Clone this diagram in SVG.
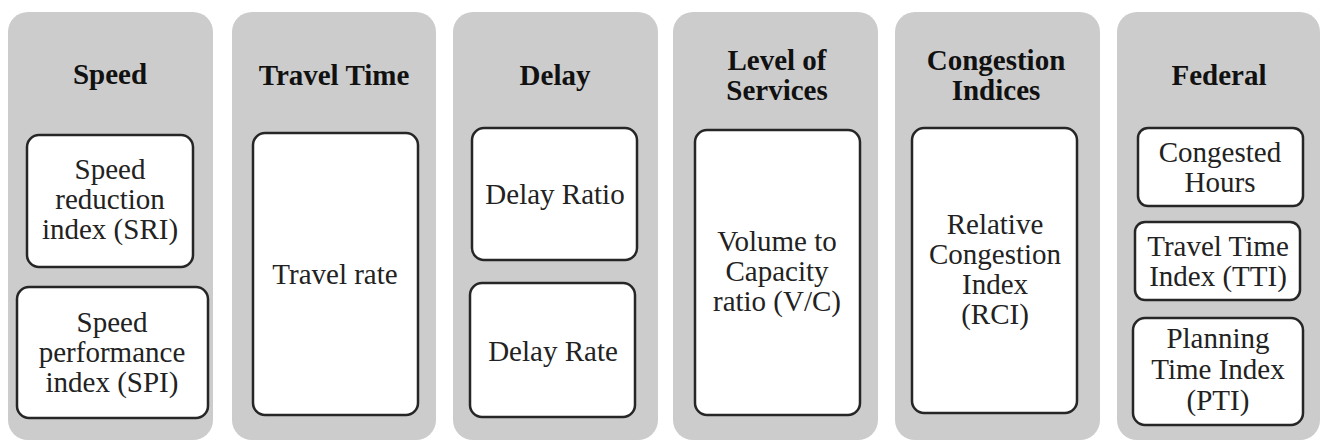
<svg xmlns="http://www.w3.org/2000/svg" width="1320" height="443" viewBox="0 0 1320 443">
<style>
.panel{fill:#cccccc;stroke:none}
.box{fill:#ffffff;stroke:#262626;stroke-width:2.5}
.title{font-weight:bold;font-size:29px;fill:#111;text-anchor:middle}
.body{font-size:29px;fill:#222;text-anchor:middle}
</style>
<rect width="1320" height="443" fill="#ffffff"/>
<g font-family="'Liberation Serif', 'DejaVu Serif', serif">
<g id="speed">
<rect class="panel" x="8" y="12" width="205" height="428" rx="20"/>
<text class="title" x="110" y="84">Speed</text>
<g id="sri"><rect class="box" x="27" y="135" width="166" height="132" rx="12"/>
<text class="body" x="110" y="179">Speed</text><text class="body" x="110" y="209">reduction</text><text class="body" x="110" y="239">index (SRI)</text></g>
<g id="spi"><rect class="box" x="17" y="287" width="191" height="131" rx="12"/>
<text class="body" x="112" y="332">Speed</text><text class="body" x="112" y="362">performance</text><text class="body" x="112" y="392">index (SPI)</text></g>
</g>
<g id="travel-time">
<rect class="panel" x="232" y="12" width="204" height="428" rx="20"/>
<text class="title" x="334" y="85">Travel Time</text>
<g id="travel-rate"><rect class="box" x="253" y="133" width="165" height="282" rx="12"/>
<text class="body" x="335" y="284">Travel rate</text></g>
</g>
<g id="delay">
<rect class="panel" x="453" y="12" width="205" height="428" rx="20"/>
<text class="title" x="555" y="85">Delay</text>
<g id="delay-ratio"><rect class="box" x="472" y="128" width="165" height="132" rx="12"/>
<text class="body" x="555" y="204">Delay Ratio</text></g>
<g id="delay-rate"><rect class="box" x="470" y="283" width="165" height="134" rx="12"/>
<text class="body" x="553" y="361">Delay Rate</text></g>
</g>
<g id="level-of-services">
<rect class="panel" x="673" y="12" width="205" height="428" rx="20"/>
<text class="title" x="777" y="70">Level of</text>
<text class="title" x="777" y="100">Services</text>
<g id="vc"><rect class="box" x="695" y="130" width="165" height="285" rx="12"/>
<text class="body" x="777" y="251">Volume to</text><text class="body" x="777" y="281">Capacity</text><text class="body" x="777" y="311">ratio (V/C)</text></g>
</g>
<g id="congestion-indices">
<rect class="panel" x="895" y="12" width="205" height="428" rx="20"/>
<text class="title" x="996" y="70">Congestion</text>
<text class="title" x="996" y="100">Indices</text>
<g id="rci"><rect class="box" x="912" y="128" width="165" height="285" rx="12"/>
<text class="body" x="995" y="234">Relative</text><text class="body" x="995" y="264">Congestion</text><text class="body" x="995" y="294">Index</text><text class="body" x="995" y="324">(RCI)</text></g>
</g>
<g id="federal">
<rect class="panel" x="1117" y="12" width="203" height="428" rx="20"/>
<text class="title" x="1219" y="85">Federal</text>
<g id="congested-hours"><rect class="box" x="1138" y="128" width="165" height="78" rx="10"/>
<text class="body" x="1220" y="162">Congested</text><text class="body" x="1220" y="192">Hours</text></g>
<g id="tti"><rect class="box" x="1135" y="222" width="165" height="78" rx="10"/>
<text class="body" x="1218" y="256">Travel Time</text><text class="body" x="1218" y="286">Index (TTI)</text></g>
<g id="pti"><rect class="box" x="1133" y="318" width="170" height="107" rx="12"/>
<text class="body" x="1218" y="348">Planning</text><text class="body" x="1218" y="379">Time Index</text><text class="body" x="1218" y="410">(PTI)</text></g>
</g>
</g>
<g id="connectors"/>
</svg>
